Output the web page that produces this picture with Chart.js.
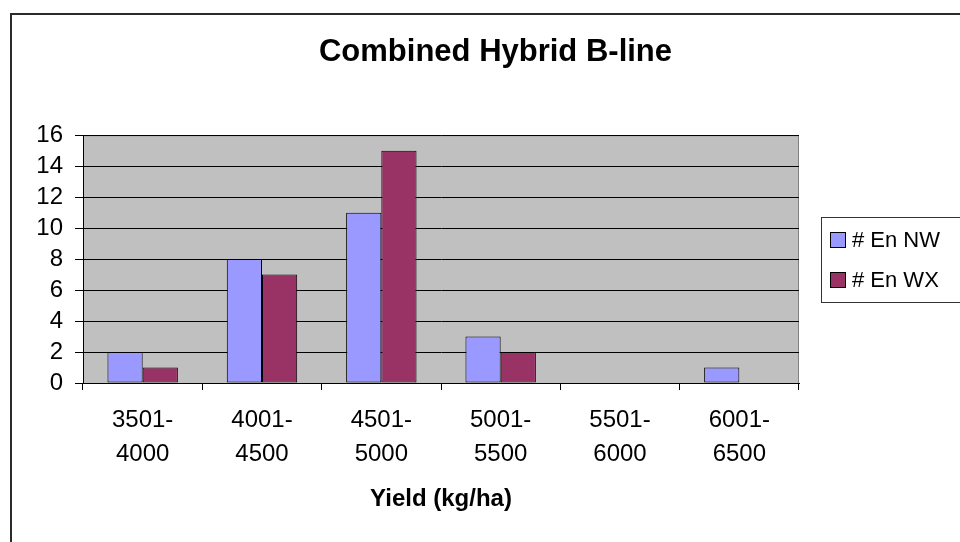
<!DOCTYPE html>
<html>
<head>
<meta charset="utf-8">
<title>Combined Hybrid B-line</title>
<script src="https://cdn.jsdelivr.net/npm/chart.js@4.4.1/dist/chart.umd.min.js"></script>
<style>
  html, body { margin: 0; padding: 0; background: #fff; overflow: hidden; }
  canvas { display: block; }
</style>
</head>
<body>
<canvas id="grafica" width="960" height="542"></canvas>
<script>
// datos
const categorias = [
  ["3501-", "4000"],
  ["4001-", "4500"],
  ["4501-", "5000"],
  ["5001-", "5500"],
  ["5501-", "6000"],
  ["6001-", "6500"],
];
const enNW = [2, 8, 11, 3, 0, 1];
const enWX = [1, 7, 15, 2, 0, 0];
const ticksY = [0, 2, 4, 6, 8, 10, 12, 14, 16];

const fuente = "'Liberation Sans', Arial, sans-serif";

// fondo gris del area de trazado y marco exterior
const fondoPlot = {
  id: "fondoPlot",
  afterLayout(chart) {
    // el titulo va centrado sobre todo el marco (que sigue fuera de la imagen)
    chart.titleBlock.left = 11;
    chart.titleBlock.right = 980;
  },
  beforeDraw(chart) {
    const { ctx, chartArea: a } = chart;
    ctx.save();
    ctx.strokeStyle = "#2b2b2b";
    ctx.lineWidth = 2;
    ctx.strokeRect(11, 14, 1200, 1200);
    ctx.fillStyle = "#c0c0c0";
    ctx.fillRect(a.left, a.top, a.right - a.left, a.bottom - a.top);
    ctx.strokeStyle = "#808080";
    ctx.lineWidth = 1;
    ctx.strokeRect(a.left + 0.5, a.top + 0.5, a.right - a.left - 1, a.bottom - a.top);
    ctx.restore();
  },
};

// leyenda con recuadro, como en Excel
const leyenda = {
  id: "leyenda",
  afterDraw(chart) {
    const { ctx } = chart;
    ctx.save();
    ctx.strokeStyle = "#333";
    ctx.lineWidth = 1;
    ctx.strokeRect(821.5, 217.5, 200, 85);
    ctx.font = "22px " + fuente;
    ctx.textBaseline = "alphabetic";
    ctx.textAlign = "left";
    chart.data.datasets.forEach((ds, i) => {
      const base = 247 + i * 40;
      ctx.fillStyle = ds.backgroundColor;
      ctx.fillRect(830, base - 15, 15, 15);
      ctx.strokeStyle = "#000";
      ctx.strokeRect(830.5, base - 14.5, 15, 15);
      ctx.fillStyle = "#000";
      ctx.fillText(ds.label, 852, base);
    });
    ctx.restore();
  },
};

new Chart(document.getElementById("grafica"), {
  type: "bar",
  data: {
    labels: categorias,
    datasets: [
      {
        label: "# En NW",
        data: enNW,
        backgroundColor: "#9999ff",
        borderColor: "#000",
        borderWidth: 1,
        borderSkipped: false,
      },
      {
        label: "# En WX",
        data: enWX,
        backgroundColor: "#993366",
        borderColor: "#000",
        borderWidth: 1,
        borderSkipped: false,
      },
    ],
  },
  plugins: [fondoPlot, leyenda],
  options: {
    responsive: false,
    animation: false,
    devicePixelRatio: 1,
    categoryPercentage: 0.59,
    barPercentage: 1,
    layout: { padding: { left: 0, right: 161, top: 0, bottom: 28 } },
    plugins: {
      legend: { display: false },
      tooltip: { enabled: false },
      title: {
        display: true,
        text: "Combined Hybrid B-line",
        color: "#000",
        font: { family: fuente, size: 31, weight: "bold" },
        padding: { top: 34, bottom: 64 },
      },
    },
    scales: {
      x: {
        afterFit: (scale) => { scale.height = 131; },
        grid: {
          display: true,
          drawOnChartArea: false,
          offset: true,
          color: "#000",
          tickLength: 7,
        },
        border: { color: "#000", width: 1 },
        ticks: {
          color: "#000",
          padding: 13,
          maxRotation: 0,
          font: { family: fuente, size: 24, lineHeight: 34 / 24 },
        },
        title: {
          display: true,
          text: "Yield (kg/ha)",
          color: "#000",
          padding: { top: 0, bottom: 0 },
          font: { family: fuente, size: 24, weight: "bold" },
        },
      },
      y: {
        min: 0,
        max: 16,
        afterFit: (scale) => { scale.width = 83; },
        afterBuildTicks: (scale) => {
          scale.ticks = ticksY.map((v) => ({ value: v }));
        },
        grid: { color: "#000", tickLength: 8 },
        border: { color: "#000", width: 1 },
        ticks: {
          color: "#000",
          padding: 12,
          autoSkip: false,
          font: { family: fuente, size: 24 },
        },
      },
    },
  },
});
</script>
</body>
</html>
